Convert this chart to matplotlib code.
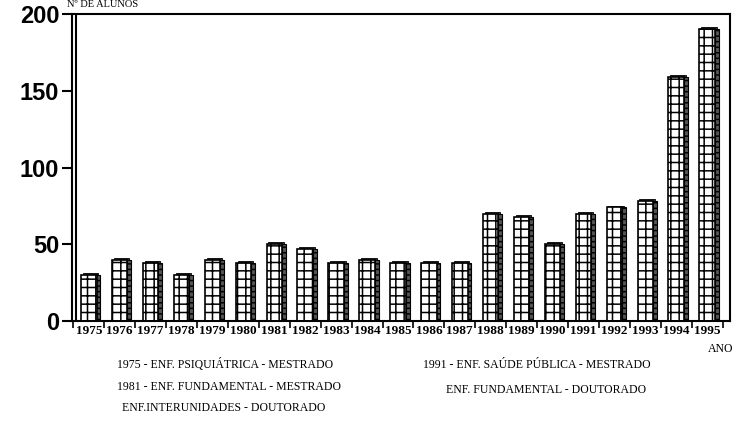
import matplotlib.pyplot as plt
import numpy as np

anos = [str(a) for a in range(1975, 1996)]
alunos = [30, 40, 38, 30, 40, 38, 50, 47, 38, 40, 38, 38, 38, 70, 68, 50, 70, 74, 78, 159, 190]
y_ticks = [0, 50, 100, 150, 200]
notas_esq = ["1975 - ENF. PSIQUIÁTRICA - MESTRADO",
             "1981 - ENF. FUNDAMENTAL - MESTRADO",
             "ENF.INTERUNIDADES - DOUTORADO"]
notas_dir = ["1991 - ENF. SAÚDE PÚBLICA - MESTRADO",
             "ENF. FUNDAMENTAL - DOUTORADO"]

plt.rcParams['hatch.linewidth'] = 1.1
fig = plt.figure(figsize=(7.56, 4.34), dpi=100)
ax = fig.add_axes([0.095, 0.260, 0.871, 0.708])

x = np.arange(len(anos))
w = 0.5
# lateral escura (efeito 3D)
ax.bar(x + w / 2 + 0.06, alunos, width=0.13, color='#555555', edgecolor='black',
       linewidth=0.8, hatch='---', zorder=2)
# face frontal com padrão de tijolos
ax.bar(x, alunos, width=w, color='white', edgecolor='black', linewidth=1.2,
       hatch='++', zorder=3)
# tampa superior
ax.bar(x + 0.06, [1.2] * len(x), bottom=alunos, width=w, color='#333333',
       edgecolor='black', linewidth=0.6, zorder=2)

ax.set_xlim(-0.55, 20.75)
ax.set_ylim(0, 200)
ax.set_yticks(y_ticks)
ax.set_yticklabels([str(v) for v in y_ticks], fontsize=17, fontweight='bold',
                   family='Liberation Sans')
ax.tick_params(axis='y', length=7, width=1.5, pad=2)

ax.set_xticks(x)
ax.set_xticklabels(anos, fontsize=9.5, fontweight='bold', family='Liberation Serif')
ax.set_xticks(np.arange(len(anos) + 1) - 0.5, minor=True)
ax.tick_params(axis='x', which='major', length=0, pad=3)
ax.tick_params(axis='x', which='minor', length=5, width=1.2)

for s in ax.spines.values():
    s.set_linewidth(1.5)
ax.axvline(-0.42, color='black', lw=1.5, zorder=4)

fig.text(0.088, 0.990, "Nº DE ALUNOS", fontsize=7.5, family='Liberation Serif', va='center')
fig.text(0.936, 0.195, "ANO", fontsize=8.5, family='Liberation Serif', va='center')

serif = dict(fontsize=8.5, family='Liberation Serif', va='center')
fig.text(0.155, 1 - 365 / 434, notas_esq[0], **serif)
fig.text(0.155, 1 - 387 / 434, notas_esq[1], **serif)
fig.text(0.162, 1 - 408 / 434, notas_esq[2], **serif)
fig.text(0.559, 1 - 365 / 434, notas_dir[0], **serif)
fig.text(0.590, 1 - 390 / 434, notas_dir[1], **serif)

fig.savefig("out.png", dpi=100)
